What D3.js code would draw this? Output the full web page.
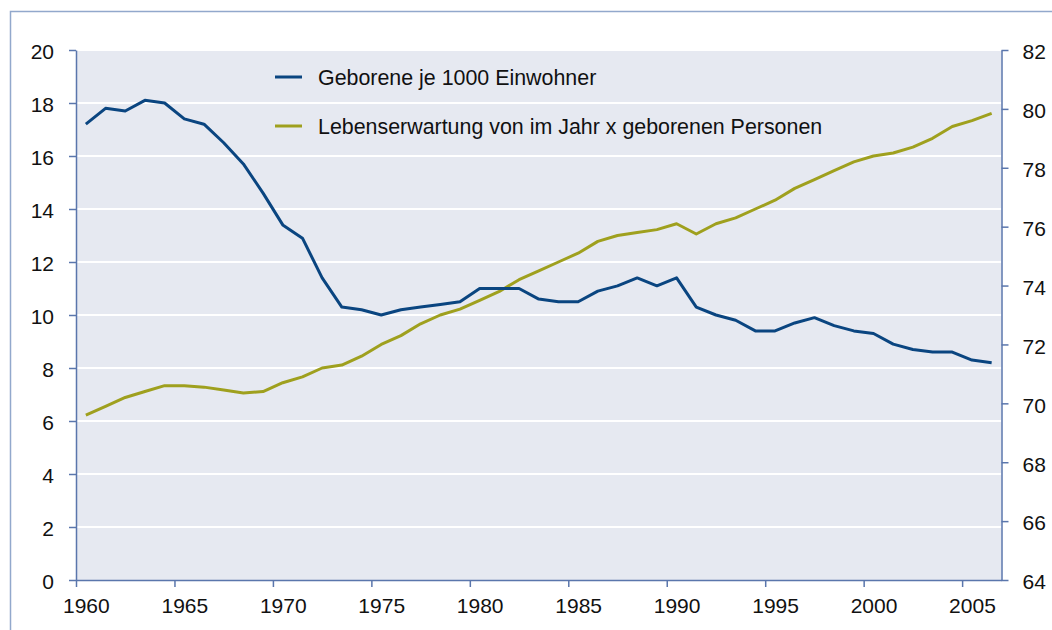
<!DOCTYPE html>
<html><head><meta charset="utf-8">
<script src="https://cdn.jsdelivr.net/npm/d3@7"></script>
<style>body{margin:0;background:#fff;} svg{display:block;}</style>
</head><body>
<svg id="chart" width="1052" height="630"></svg>
<script>
const years = d3.range(1960, 2007);
const births = [17.2,17.8,17.7,18.1,18.0,17.4,17.2,16.5,15.7,14.6,13.4,12.9,11.4,10.3,10.2,10.0,10.2,10.3,10.4,10.5,11.0,11.0,11.0,10.6,10.5,10.5,10.9,11.1,11.4,11.1,11.4,10.3,10.0,9.8,9.4,9.4,9.7,9.9,9.6,9.4,9.3,8.9,8.7,8.6,8.6,8.3,8.2];
const lifeExp = [69.6,69.9,70.2,70.4,70.6,70.6,70.55,70.45,70.35,70.4,70.7,70.9,71.2,71.3,71.6,72.0,72.3,72.7,73.0,73.2,73.5,73.8,74.2,74.5,74.8,75.1,75.5,75.7,75.8,75.9,76.1,75.75,76.1,76.3,76.6,76.9,77.3,77.6,77.9,78.2,78.4,78.5,78.7,79.0,79.4,79.6,79.85];
const xTicks = [1960,1965,1970,1975,1980,1985,1990,1995,2000,2005];
const leftTicks = [0,2,4,6,8,10,12,14,16,18,20];
const rightTicks = [64,66,68,70,72,74,76,78,80,82];
const seriesNames = ["Geborene je 1000 Einwohner","Lebenserwartung von im Jahr x geborenen Personen"];
const colors = ["#0A4580","#9FA01E"];

const svg = d3.select("#chart");
const L = 76, R = 1001.5, T = 50, B = 580;
const axisColor = "#5A76AC";
const font = "Liberation Sans, Arial, sans-serif";

// outer border
svg.append("rect").attr("x",10.5).attr("y",11.5).attr("width",1200).attr("height",800)
  .attr("fill","none").attr("stroke","#92A8CC").attr("stroke-width",1.5);

const x = d3.scaleLinear().domain([1960,2007]).range([L,R]);
const yL = d3.scaleLinear().domain([0,20]).range([B,T]);
const yR = d3.scaleLinear().domain([64,82]).range([B,T]);

svg.append("rect").attr("x",L).attr("y",T).attr("width",R-L).attr("height",B-T).attr("fill","#E6E9F1");

// grid
svg.append("g").selectAll("line").data(leftTicks.filter(d=>d>0)).join("line")
  .attr("x1",L).attr("x2",R).attr("y1",d=>yL(d)).attr("y2",d=>yL(d))
  .attr("stroke","#fff").attr("stroke-width",2);

function styleAxis(g){
  g.selectAll("path").attr("stroke",axisColor).attr("stroke-width",1.5);
  g.selectAll(".tick line").attr("stroke",axisColor).attr("stroke-width",1.5);
  g.selectAll("text").attr("fill","#111").style("font-family",font).style("font-size","21px");
}
const gx = svg.append("g").attr("transform",`translate(0,${B})`)
  .call(d3.axisBottom(x).tickValues(xTicks).tickFormat(d3.format("d")).tickSizeInner(7).tickSizeOuter(0).tickPadding(11));
styleAxis(gx);
// category labels sit centred on the year slot
const halfYear = x(1960.5) - x(1960);
gx.selectAll(".tick text").attr("x", halfYear);

const gl = svg.append("g").attr("transform",`translate(${L},0)`)
  .call(d3.axisLeft(yL).tickValues(leftTicks).tickSizeInner(7).tickSizeOuter(0).tickPadding(15));
styleAxis(gl);
gl.selectAll(".tick text").attr("dy","0.42em");
const gr = svg.append("g").attr("transform",`translate(${R},0)`)
  .call(d3.axisRight(yR).tickValues(rightTicks).tickSizeInner(7).tickSizeOuter(0).tickPadding(14));
styleAxis(gr);
gr.selectAll(".tick text").attr("dy","0.42em");

const lineB = d3.line().x((d,i)=>x(years[i]+0.5)).y(d=>yL(d));
const lineG = d3.line().x((d,i)=>x(years[i]+0.5)).y(d=>yR(d));
svg.append("path").datum(lifeExp).attr("d",lineG).attr("fill","none").attr("stroke",colors[1]).attr("stroke-width",3).attr("stroke-linejoin","round");
svg.append("path").datum(births).attr("d",lineB).attr("fill","none").attr("stroke",colors[0]).attr("stroke-width",3).attr("stroke-linejoin","round");

// legend
const leg = svg.append("g");
seriesNames.forEach((name,i)=>{
  const yy = 77 + i*49;
  leg.append("line").attr("x1",275).attr("x2",302).attr("y1",yy).attr("y2",yy).attr("stroke",colors[i]).attr("stroke-width",3);
  leg.append("text").attr("x",318).attr("y",yy).attr("dy","0.36em").text(name)
    .style("font-family",font).style("font-size","21.4px").attr("fill","#111");
});
</script>
</body></html>
